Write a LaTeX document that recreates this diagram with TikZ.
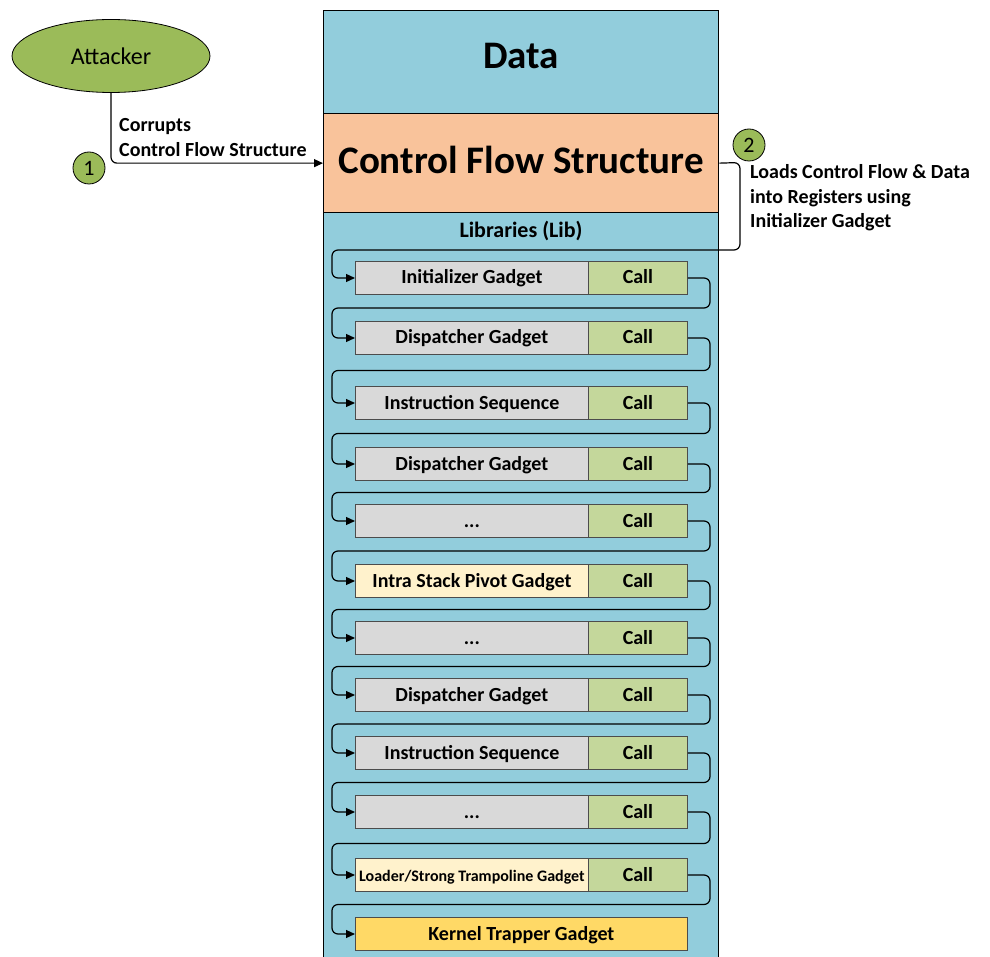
\documentclass[tikz,border=0pt]{standalone}
\usepackage{fontspec}
\setmainfont{Carlito}
\usetikzlibrary{arrows.meta,shapes.geometric,calc}
\definecolor{cblue}{HTML}{92CDDC}
\definecolor{corange}{HTML}{F9C39B}
\definecolor{cgray}{HTML}{D9D9D9}
\definecolor{ccall}{HTML}{C4D79B}
\definecolor{cgreen}{HTML}{9BBB59}
\definecolor{clight}{HTML}{FFF2CC}
\definecolor{cgold}{HTML}{FFD966}
\newcommand{\mydots}{...}
\tikzset{
  secbox/.style={draw=black, line width=1.3pt, inner sep=0pt},
  bigtxt/.style={font=\fontsize{39}{44}\selectfont\bfseries, inner sep=0pt, anchor=base},
  gadget/.style={draw=black!70, line width=0.8pt, inner sep=0pt, minimum height=33pt, minimum width=233pt, anchor=west, text height=16pt, text depth=4pt, font=\fontsize{20}{22}\selectfont\bfseries},
  callbox/.style={draw=black!70, line width=0.8pt, fill=ccall, inner sep=0pt, minimum height=33pt, minimum width=99pt, anchor=west, text height=16pt, text depth=4pt, font=\fontsize{20}{22}\selectfont\bfseries},
  flow/.style={draw=black, line width=1.2pt, rounded corners=6pt, -{Triangle[length=9pt,width=8pt]}},
  numcirc/.style={circle, draw=black, line width=0.8pt, fill=cgreen, minimum size=32pt, inner sep=0pt, font=\fontsize{22}{24}\selectfont},
  lbl/.style={font=\fontsize{20}{24}\selectfont\bfseries, inner sep=0pt, anchor=base west}
}
\begin{document}
\begin{tikzpicture}[x=1pt,y=-1pt]
\useasboundingbox (0,0) rectangle (990,957);
% column
\node[secbox, fill=cblue, minimum width=395pt, minimum height=748pt, anchor=north west] (lib) at (323,212) {};
\node[secbox, fill=cblue, minimum width=395pt, minimum height=103pt, anchor=north west] (data) at (323,10) {};
\node[secbox, fill=corange, minimum width=395pt, minimum height=99pt, anchor=north west] (cfs) at (323,113) {};
\node[bigtxt] (datat) at (521,68.5) {Data};
\node[bigtxt] (cfst) at (521,174) {Control Flow Structure};
\node[font=\fontsize{22}{24}\selectfont\bfseries, inner sep=0pt, anchor=base] (libt) at (521,238) {Libraries (Lib)};

% rows
\foreach \i/\y/\t/\c in {1/278/Initializer Gadget/cgray, 2/338/Dispatcher Gadget/cgray, 3/403/Instruction Sequence/cgray, 4/464/Dispatcher Gadget/cgray, 5/521/\mydots/cgray, 6/581/Intra Stack Pivot Gadget/clight, 7/638/\mydots/cgray, 8/695/Dispatcher Gadget/cgray, 9/753/Instruction Sequence/cgray, 10/812/\mydots/cgray}{
  \node[gadget, fill=\c] (r\i) at (355,\y) {\t};
  \node[callbox] (c\i) at (588,\y) {Call};
}
\node[gadget, fill=clight, font=\fontsize{16}{18}\selectfont\bfseries] (r11) at (355,875) {Loader/Strong Trampoline Gadget};
\node[callbox] (c11) at (588,875) {Call};
\node[gadget, fill=cgold, minimum width=332pt] (r12) at (355,934) {Kernel Trapper Gadget};

% loops between rows
\foreach \i/\j/\ya/\yb in {1/2/278/338, 2/3/338/403, 3/4/403/464, 4/5/464/521, 5/6/521/581, 6/7/581/638, 7/8/638/695, 8/9/695/753, 9/10/753/812, 10/11/812/875, 11/12/875/934}{
  \pgfmathsetmacro{\ym}{(\ya+\yb)/2}
  \draw[flow] (c\i.east) -- (710,\ya) -- (710,\ym) -- (332,\ym) -- (332,\yb) -- (r\j.west);
}

% entry loop from CFS
\draw[flow] (cfs.east) -- (740,162.5) -- (740,250) -- (332,250) -- (332,278) -- (r1.west);

% attacker
\node[ellipse, draw=black, line width=0.8pt, fill=cgreen, minimum width=198pt, minimum height=73pt, inner sep=0pt, font=\fontsize{24}{26}\selectfont] (att) at (111,56) {Attacker};
\draw[flow] (att.south) |- (cfs.west);
\node[lbl] (l1a) at (119,132) {Corrupts};
\node[lbl] (l1b) at (119,157) {Control Flow Structure};
\node[numcirc] (n1) at (89,168) {1};
\node[numcirc] (n2) at (749,145) {2};
\node[lbl] (l2a) at (750,179) {Loads Control Flow \& Data};
\node[lbl] (l2b) at (750,204) {into Registers using};
\node[lbl] (l2c) at (750,228) {Initializer Gadget};
\end{tikzpicture}
\end{document}
